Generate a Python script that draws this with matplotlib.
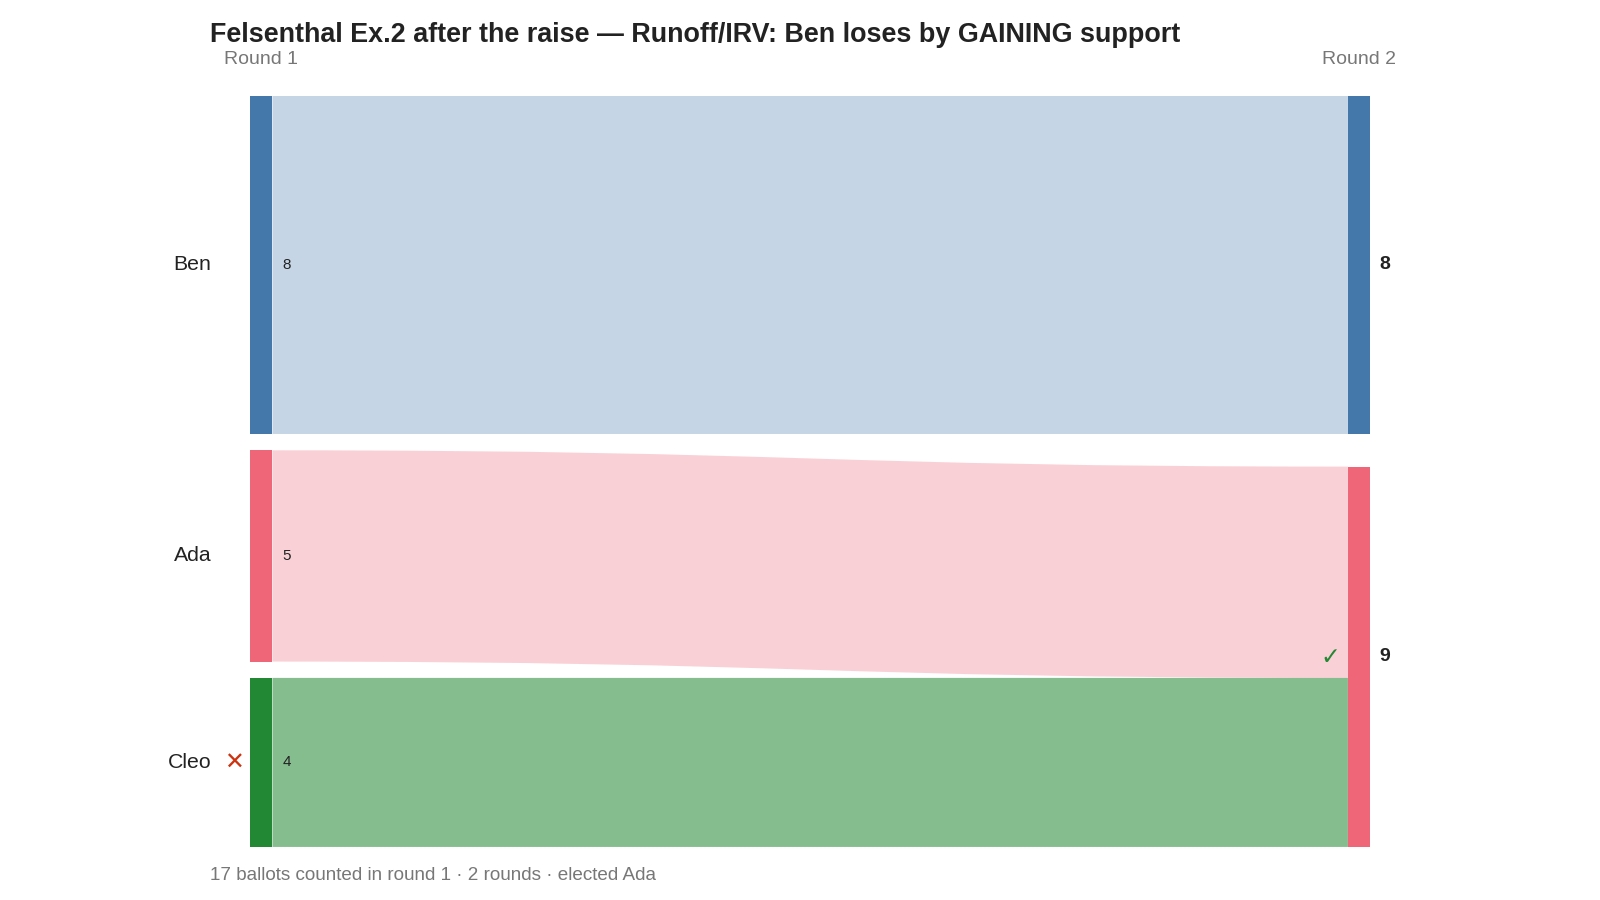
import numpy as np
import matplotlib
matplotlib.use('Agg')
import matplotlib.pyplot as plt
from matplotlib.path import Path
from matplotlib.patches import PathPatch, Rectangle

plt.rcParams['font.family'] = ['Liberation Sans', 'DejaVu Sans']

# ── data ────────────────────────────────────────────────────────────────────
CANDIDATES = ['Ben', 'Ada', 'Cleo']
ROUND1 = [8, 5, 4]
ROUND2_CANDS = ['Ben', 'Ada']
ROUND2 = [8, 9]
FLOWS = [('Ben', 'Ben', 8), ('Ada', 'Ada', 5), ('Cleo', 'Ada', 4)]
ELIMINATED = ['Cleo']
WINNER = 'Ada'
ROUNDS = ['Round 1', 'Round 2']

TITLE = 'Felsenthal Ex.2 after the raise — Runoff/IRV: Ben loses by GAINING support'
FOOTER = '17 ballots counted in round 1 · 2 rounds · elected Ada'

COLORS = {'Ben': '#4477AA', 'Ada': '#EE6677', 'Cleo': '#228833'}
FLOW_ALPHA = {'Ben': 0.30, 'Ada': 0.30, 'Cleo': 0.55}

# ── layout (x in plot-area units, y in ballot units) ──────────────────────
S = 1600 / 1568          # measured on a scaled view of the target
GAP = 0.386
TOTAL = sum(ROUND1) + (len(ROUND1) - 1) * GAP
NODE_W = 22
X_LEFT, X_RIGHT = 0, 1076


def stack(names, vals):
    gap = (TOTAL - sum(vals)) / (len(vals) - 1) if len(vals) > 1 else 0
    pos, y = {}, 0.0
    for n, v in zip(names, vals):
        pos[n] = [y, y + v]
        y += v + gap
    return pos


left = stack(CANDIDATES, ROUND1)
right = stack(ROUND2_CANDS, ROUND2)

fig = plt.figure(figsize=(16, 9), dpi=100)
ax = fig.add_axes([245 * S / 1600, 1 - 830 * S / 900, 1098 * S / 1600, 736 * S / 900])
ax.set_xlim(0, 1098)
ax.set_ylim(TOTAL, 0)
ax.axis('off')

# flows
out_off = {n: left[n][0] for n in CANDIDATES}
in_off = {n: right[n][0] for n in ROUND2_CANDS}
x0, x1 = X_LEFT + NODE_W, X_RIGHT
xm = (x0 + x1) / 2
for src, dst, v in FLOWS:
    a0, a1 = out_off[src], out_off[src] + v
    b0, b1 = in_off[dst], in_off[dst] + v
    out_off[src] += v
    in_off[dst] += v
    verts = [(x0, a0), (xm, a0), (xm, b0), (x1, b0),
             (x1, b1), (xm, b1), (xm, a1), (x0, a1), (x0, a0)]
    codes = [Path.MOVETO, Path.CURVE4, Path.CURVE4, Path.CURVE4,
             Path.LINETO, Path.CURVE4, Path.CURVE4, Path.CURVE4, Path.CLOSEPOLY]
    ax.add_patch(PathPatch(Path(verts, codes), facecolor=COLORS[src],
                           alpha=FLOW_ALPHA[src], edgecolor='none', lw=0))

# nodes + labels, round 1
for name, v in zip(CANDIDATES, ROUND1):
    y0, y1 = left[name]
    yc = (y0 + y1) / 2
    ax.add_patch(Rectangle((X_LEFT, y0), NODE_W, v, facecolor=COLORS[name], edgecolor='none'))
    ax.text(X_LEFT - 38, yc, name, ha='right', va='center', fontsize=15.3,
            color='#222222', clip_on=False)
    ax.text(X_LEFT + NODE_W + 10, yc, str(v), ha='left', va='center', fontsize=11,
            color='#222222')
    if name in ELIMINATED:
        ax.text(X_LEFT - 16, yc, '✕', ha='center', va='center', fontsize=17,
                color='#CC3311', family='DejaVu Sans', clip_on=False)

# nodes + labels, round 2
for name, v in zip(ROUND2_CANDS, ROUND2):
    y0, y1 = right[name]
    yc = (y0 + y1) / 2
    ax.add_patch(Rectangle((X_RIGHT, y0), NODE_W, v, facecolor=COLORS[name], edgecolor='none'))
    ax.text(X_RIGHT + NODE_W + 9, yc, str(v), ha='left', va='center', fontsize=14,
            fontweight='bold', color='#222222', clip_on=False)
    if name == WINNER:
        ax.text(X_RIGHT - 17, yc, '✓', ha='center', va='center', fontsize=17,
                color='#228833', family='DejaVu Sans', fontweight='bold')

# round headers
for xr, lab in zip([X_LEFT, X_RIGHT], ROUNDS):
    ax.text(xr + NODE_W / 2, -0.87, lab, ha='center', va='center', fontsize=14,
            color='#777777', clip_on=False)

fig.text(206 * S / 1600, 1 - 34 * S / 900, TITLE, ha='left', va='center', fontsize=19.4,
         fontweight='bold', color='#222222')
fig.text(206 * S / 1600, 1 - 858 * S / 900, FOOTER, ha='left', va='center', fontsize=13.6,
         color='#777777')

fig.savefig('out.png', dpi=100)
plt.close(fig)
